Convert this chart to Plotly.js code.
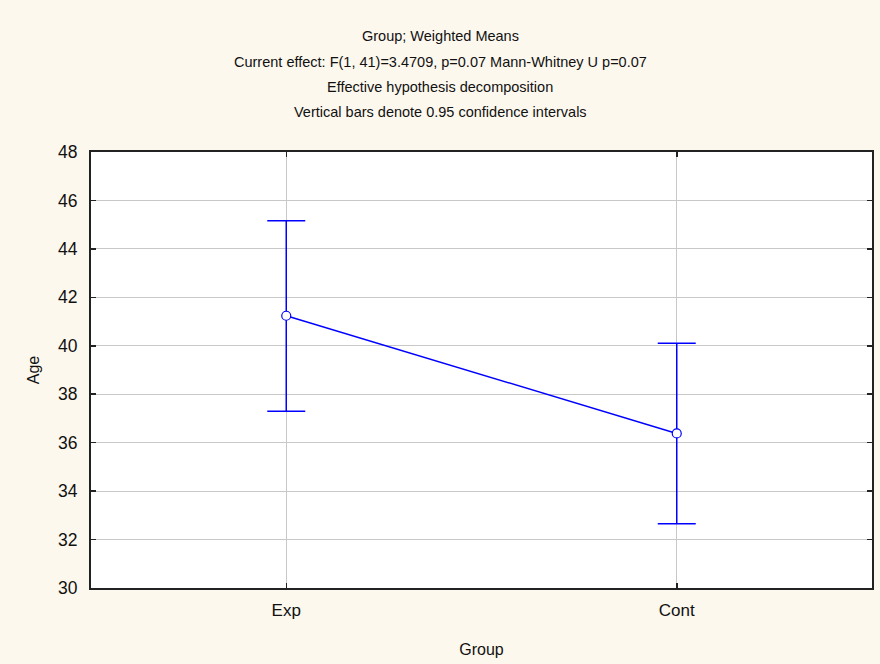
<!DOCTYPE html>
<html>
<head>
<meta charset="utf-8">
<script src="https://cdn.plot.ly/plotly-3.0.1.min.js"></script>
<style>html,body{margin:0;padding:0;background:#FDF8EE;}#chart{width:880px;height:664px;}</style>
</head>
<body>
<div id="chart"></div>
<script>
const groups = ["Exp", "Cont"];
const means = [41.24, 36.38];
const upper = [45.16, 40.10];
const lower = [37.30, 32.65];
const titleLines = [
  "Group; Weighted Means",
  "Current effect: F(1, 41)=3.4709, p=0.07 Mann-Whitney U p=0.07",
  "Effective hypothesis decomposition",
  "Vertical bars denote 0.95 confidence intervals"
];
const titleYs = [1.266, 1.206, 1.149, 1.092];

const errPlus = means.map((m, i) => upper[i] - m);
const errMinus = means.map((m, i) => m - lower[i]);

const trace = {
  x: groups,
  y: means,
  type: 'scatter',
  mode: 'lines+markers',
  line: {color: '#0000FF', width: 1.5},
  marker: {symbol: 'circle', size: 9, color: '#FFFFFF', line: {color: '#0000FF', width: 1.2}},
  error_y: {type: 'data', symmetric: false, array: errPlus, arrayminus: errMinus,
            color: '#0000FF', thickness: 1.5, width: 19},
  hoverinfo: 'skip'
};

const FAM = 'Liberation Sans, Arial, sans-serif';
const annotations = titleLines.map((t, i) => ({
  text: t, xref: 'paper', yref: 'paper', x: 0.447, y: titleYs[i],
  xanchor: 'center', yanchor: 'middle', showarrow: false,
  font: {family: FAM, size: 14.5, color: '#111'}
}));

const layout = {
  width: 880, height: 664,
  paper_bgcolor: '#FDF8EE', plot_bgcolor: '#FFFFFF',
  margin: {l: 91, r: 8, t: 152, b: 76},
  showlegend: false,
  font: {family: FAM, size: 14, color: '#111'},
  annotations: annotations,
  xaxis: {
    type: 'category', range: [-0.5, 1.5],
    showgrid: true, gridcolor: '#C8C8C8', gridwidth: 1,
    showline: true, linecolor: '#222', linewidth: 2, mirror: 'ticks',
    ticks: 'inside', ticklen: 5, tickcolor: '#222', tickwidth: 1.5,
    ticklabelstandoff: 6,
    tickfont: {family: FAM, size: 17, color: '#111'},
    title: {text: 'Group', standoff: 24, font: {family: FAM, size: 16, color: '#111'}},
    zeroline: false, fixedrange: true
  },
  yaxis: {
    range: [30, 48], dtick: 2, tick0: 30,
    showgrid: true, gridcolor: '#C8C8C8', gridwidth: 1,
    showline: true, linecolor: '#222', linewidth: 2, mirror: 'ticks',
    ticks: 'inside', ticklen: 5, tickcolor: '#222', tickwidth: 1.5,
    ticklabelstandoff: 8,
    tickfont: {family: FAM, size: 17.5, color: '#111'},
    title: {text: 'Age', standoff: 14, font: {family: FAM, size: 16, color: '#111'}},
    zeroline: false, fixedrange: true
  }
};

Plotly.newPlot('chart', [trace], layout, {displayModeBar: false, staticPlot: true});
</script>
</body>
</html>
